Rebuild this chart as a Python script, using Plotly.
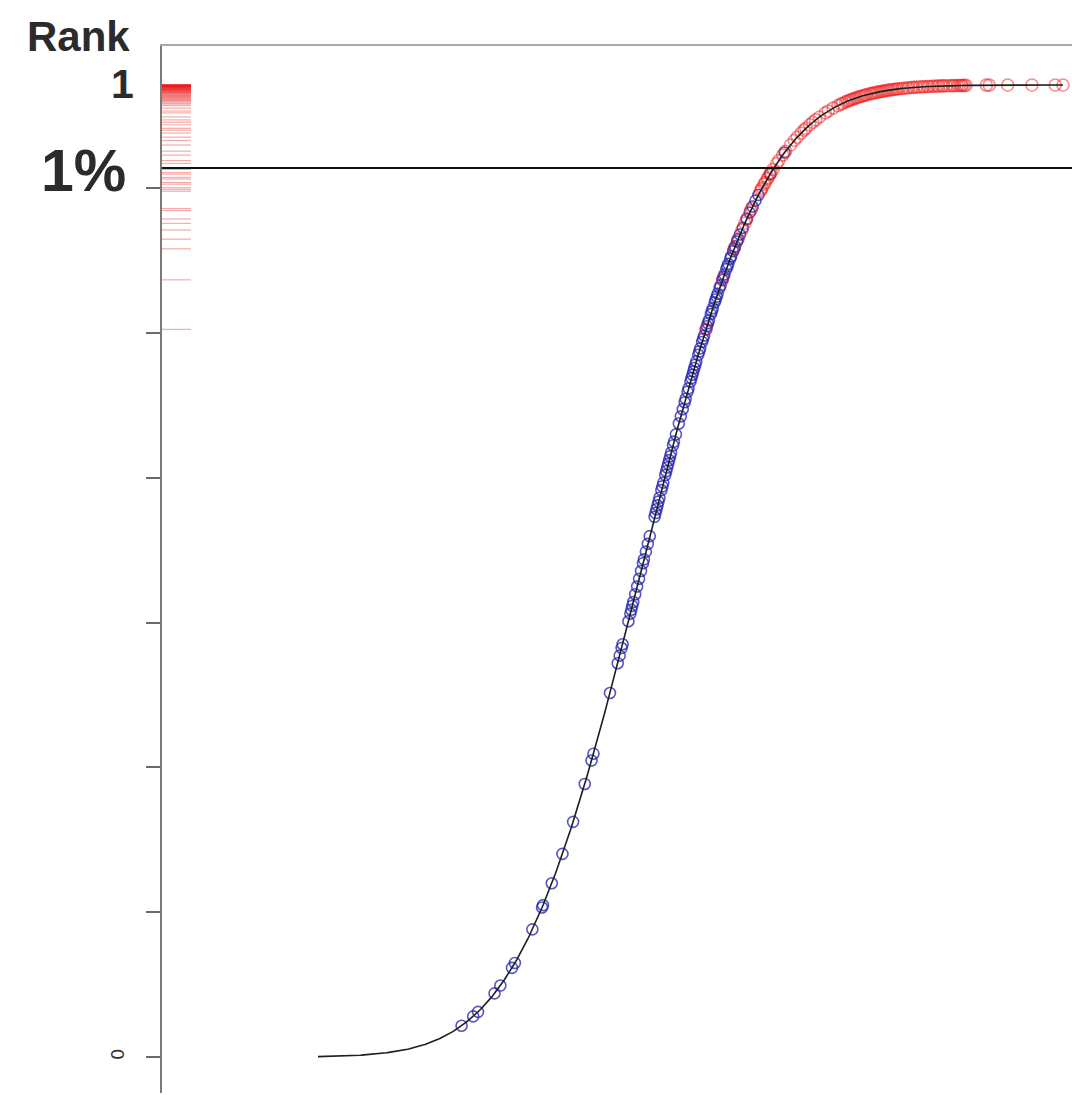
import math
import numpy as np
import plotly.graph_objects as go

# Standardised scores of the entries shown along the rank curve
blue_scores = [
    -1.85, -1.73, -1.68, -1.51, -1.45, -1.33, -1.30, -1.12, -1.02, -1.01,
    -0.92, -0.81, -0.70, -0.58, -0.51, -0.49, -0.32, -0.24, -0.22, -0.20,
    -0.19, -0.13, -0.11, -0.10, -0.09, -0.08, -0.06, -0.04, -0.02, 0.00,
    0.02, 0.03, 0.05, 0.07, 0.09, 0.14, 0.15, 0.16, 0.17, 0.18, 0.19,
    0.21, 0.22, 0.23, 0.25, 0.26, 0.27, 0.28, 0.29, 0.30, 0.31, 0.33,
    0.34, 0.36, 0.39, 0.41, 0.43, 0.45, 0.46, 0.48, 0.49, 0.51, 0.52,
    0.53, 0.54, 0.55, 0.56, 0.57, 0.59, 0.60, 0.61, 0.63, 0.64, 0.65,
    0.67, 0.68, 0.69, 0.70, 0.72, 0.73, 0.74, 0.76, 0.77, 0.78, 0.79,
    0.81, 0.82, 0.84, 0.85, 0.86, 0.88, 0.89, 0.90, 0.92, 0.93, 0.95,
    0.96, 0.97, 0.99, 1.00, 1.02, 1.05, 1.09, 1.12, 1.15, 1.18, 1.21,
    1.33, 1.48,
]

red_scores = [
    0.67, 0.84, 0.96, 1.00, 1.04, 1.07, 1.09, 1.13, 1.14, 1.23, 1.24,
    1.25, 1.27, 1.28, 1.30, 1.31, 1.33, 1.34, 1.36, 1.40, 1.42, 1.46,
    1.49, 1.54, 1.58, 1.61, 1.65, 1.68, 1.70, 1.74, 1.77, 1.80, 1.84,
    1.90, 1.93, 1.98, 2.03, 2.06, 2.08, 2.11, 2.13, 2.15, 2.17, 2.19,
    2.21, 2.23, 2.25, 2.27, 2.29, 2.31, 2.33, 2.36, 2.38, 2.40, 2.42,
    2.44, 2.46, 2.48, 2.50, 2.52, 2.54, 2.56, 2.58, 2.60, 2.62, 2.64,
    2.66, 2.69, 2.71, 2.74, 2.76, 2.79, 2.81, 2.84, 2.87, 2.90, 2.92,
    2.95, 2.97, 3.00, 3.02, 3.05, 3.07, 3.10, 3.12, 3.15, 3.18, 3.21,
    3.23, 3.26, 3.28, 3.30, 3.31, 3.33, 3.35, 3.56, 3.59, 3.78, 4.03,
    4.27, 4.35,
]

# Rank scale: cut-off line and unlabelled tick spacing
threshold_rank = 0.9146
rank_tick_step = 0.149
rank_tick_labels = ["0", "", "", "", "", "", ""]
curve_start = -3.33

X_RANGE = [-4.938, 4.443]
Y_RANGE = [-0.037, 1.0401]


def normal_cdf(z):
    z = np.asarray(z, dtype=float)
    return 0.5 * (1.0 + np.vectorize(math.erf)(z / math.sqrt(2.0)))


blue_rank = normal_cdf(blue_scores)
red_rank = normal_cdf(red_scores)

curve_z = np.linspace(curve_start, max(red_scores), 600)
curve_rank = normal_cdf(curve_z)

fig = go.Figure()

# Rug of the red entries' ranks along the left axis
rug_left = X_RANGE[0]
rug_right = X_RANGE[0] + (X_RANGE[1] - X_RANGE[0]) * 29 / 910
rug_x, rug_y = [], []
for r in red_rank:
    rug_x += [rug_left, rug_right, None]
    rug_y += [r, r, None]
fig.add_trace(go.Scatter(
    x=rug_x, y=rug_y, mode="lines",
    line=dict(color="rgba(235,35,35,0.38)", width=1.2),
    hoverinfo="skip", showlegend=False,
))

fig.add_trace(go.Scatter(
    x=blue_scores, y=blue_rank, mode="markers",
    marker=dict(symbol="circle-open", size=11,
                color="rgba(40,40,175,0.78)", line=dict(width=1.6)),
    showlegend=False,
))

fig.add_trace(go.Scatter(
    x=red_scores, y=red_rank, mode="markers",
    marker=dict(symbol="circle-open", size=12,
                color="rgba(240,30,30,0.5)", line=dict(width=1.6)),
    showlegend=False,
))

fig.add_trace(go.Scatter(
    x=curve_z, y=curve_rank, mode="lines",
    line=dict(color="#1e1e1e", width=1.6),
    hoverinfo="skip", showlegend=False,
))

fig.add_shape(
    type="line", xref="paper", x0=0, x1=1, yref="y",
    y0=threshold_rank, y1=threshold_rank,
    line=dict(color="#111111", width=2),
)

label_font = "Liberation Sans, Arial, sans-serif"
label_color = "#2b2b2b"
fig.add_annotation(
    text="<b>Rank</b>", xref="paper", yref="paper",
    x=(131 - 162) / 910, y=(1093 - 36.5) / 1047,
    xanchor="right", yanchor="middle", showarrow=False, borderpad=0,
    font=dict(family=label_font, size=42, color=label_color),
)
fig.add_annotation(
    text="<b>1</b>", xref="paper", yref="y",
    x=(135 - 162) / 910, y=1.0, yshift=1,
    xanchor="right", yanchor="middle", showarrow=False, borderpad=0,
    font=dict(family=label_font, size=41, color=label_color),
)
fig.add_annotation(
    text="<b>1%</b>", xref="paper", yref="y",
    x=(127 - 162) / 910, y=threshold_rank, yshift=-3,
    xanchor="right", yanchor="middle", showarrow=False, borderpad=0,
    font=dict(family=label_font, size=59, color=label_color),
)

fig.update_layout(
    width=1072, height=1095,
    margin=dict(l=162, r=0, t=46, b=2),
    paper_bgcolor="white", plot_bgcolor="white",
    xaxis=dict(
        range=X_RANGE, side="top", showline=True, linecolor="#a8a8a8",
        linewidth=2, showticklabels=False, ticks="", showgrid=False,
        zeroline=False,
    ),
    yaxis=dict(
        range=Y_RANGE, showline=True, linecolor="#7a7a7a", linewidth=2,
        ticks="outside", ticklen=14, tickwidth=1.5, tickcolor="#6a6a6a",
        tickvals=[k * rank_tick_step for k in range(len(rank_tick_labels))],
        ticktext=rank_tick_labels, tickangle=-90, ticklabelstandoff=15,
        tickfont=dict(family="DejaVu Sans, sans-serif", size=18, color="#333"),
        showgrid=False, zeroline=False,
    ),
)

fig.write_html("out.html")
